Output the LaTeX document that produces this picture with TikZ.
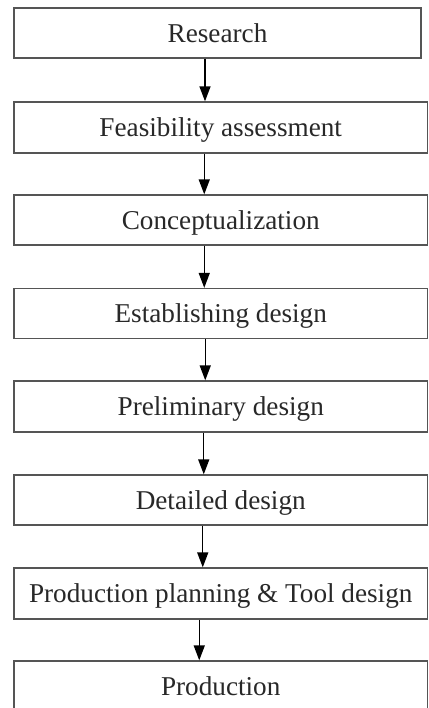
\documentclass[tikz,border=0pt]{standalone}
\usepackage{fontspec}
\setmainfont{Liberation Serif}
\usetikzlibrary{arrows.meta}
\definecolor{boxline}{RGB}{85,85,85}
\definecolor{txt}{RGB}{40,40,40}
\tikzset{
  stage/.style={draw=boxline, line width=1.3pt, rectangle, inner sep=0pt,
    text=txt, font=\fontsize{27.2}{32}\selectfont,
    text height=18.5pt, text depth=0pt},
  arr/.style={draw=black, line width=1.4pt, -{Triangle[width=11pt,length=15pt]}}
}
\begin{document}
\begin{tikzpicture}[x=1pt,y=-1pt]
\useasboundingbox (0,0) rectangle (428,708);
\fill[white] (0,0) rectangle (428,708);
\begin{scope}
\clip (0,0) rectangle (428,708);
\node[stage, minimum width=407pt, minimum height=50pt] (b1) at (217.5,33) {Research};
\node[stage, minimum width=413.5pt, minimum height=51pt] (b2) at (220.75,127.5) {Feasibility assessment};
\node[stage, minimum width=413.5pt, minimum height=50pt] (b3) at (220.75,220) {Conceptualization};
\node[stage, minimum width=413.5pt, minimum height=50pt] (b4) at (220.75,313.5) {Establishing design};
\node[stage, minimum width=413.5pt, minimum height=51pt] (b5) at (220.75,406.5) {Preliminary design};
\node[stage, minimum width=413.5pt, minimum height=50pt] (b6) at (220.75,500) {Detailed design};
\node[stage, minimum width=413.5pt, minimum height=51pt] (b7) at (220.75,593.5) {Production planning \& Tool design};
\node[stage, minimum width=413.5pt, minimum height=51pt] (b8) at (220.75,686.5) {Production};
\draw[arr] ([xshift=-12.5pt]b1.south) -- ([xshift=-12.5pt]b1.south |- b2.north);
\draw[arr] ([xshift=-16.5pt]b2.south) -- ([xshift=-16.5pt]b2.south |- b3.north);
\draw[arr] ([xshift=-16.5pt]b3.south) -- ([xshift=-16.5pt]b3.south |- b4.north);
\draw[arr] ([xshift=-15.5pt]b4.south) -- ([xshift=-15.5pt]b4.south |- b5.north);
\draw[arr] ([xshift=-17pt]b5.south) -- ([xshift=-17pt]b5.south |- b6.north);
\draw[arr] ([xshift=-18pt]b6.south) -- ([xshift=-18pt]b6.south |- b7.north);
\draw[arr] ([xshift=-21.5pt]b7.south) -- ([xshift=-21.5pt]b7.south |- b8.north);
\end{scope}
\end{tikzpicture}
\end{document}
